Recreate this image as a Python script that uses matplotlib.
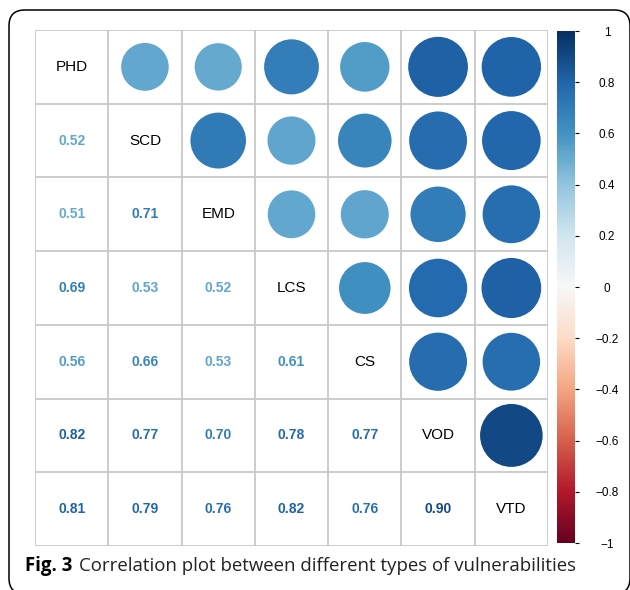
import numpy as np
import matplotlib
matplotlib.use("Agg")
import matplotlib.pyplot as plt
from matplotlib.patches import Circle, FancyBboxPatch
from matplotlib.colors import Normalize
import matplotlib.cm as cm

labels = ["PHD", "SCD", "EMD", "LCS", "CS", "VOD", "VTD"]
corr = [
    [1.00, 0.52, 0.51, 0.69, 0.56, 0.82, 0.81],
    [0.52, 1.00, 0.71, 0.53, 0.66, 0.77, 0.79],
    [0.51, 0.71, 1.00, 0.52, 0.53, 0.70, 0.76],
    [0.69, 0.53, 0.52, 1.00, 0.61, 0.78, 0.82],
    [0.56, 0.66, 0.53, 0.61, 1.00, 0.77, 0.76],
    [0.82, 0.77, 0.70, 0.78, 0.77, 1.00, 0.90],
    [0.81, 0.79, 0.76, 0.82, 0.76, 0.90, 1.00],
]
cbar_ticks = [-1, -0.8, -0.6, -0.4, -0.2, 0, 0.2, 0.4, 0.6, 0.8, 1]
caption_bold = "Fig. 3"
caption_text = "Correlation plot between different types of vulnerabilities"

W, H = 630, 590
fig = plt.figure(figsize=(W / 100, H / 100), dpi=100)

def fx(px):
    return px / W

def fy(py):
    return 1 - py / H

cmap = plt.get_cmap("RdBu")
norm = Normalize(-1, 1)
n = len(labels)

# main axes
x0, x1, y0, y1 = 35, 548, 30, 546
ax = fig.add_axes([fx(x0), fy(y1), fx(x1 - x0), (y1 - y0) / H])
ax.set_xlim(0, n)
ax.set_ylim(n, 0)
ax.axis("off")

grid_col = "#c8c8c8"
for k in range(n + 1):
    ax.plot([k, k], [0, n], color=grid_col, lw=1.3, solid_capstyle="butt", zorder=1)
    ax.plot([0, n], [k, k], color=grid_col, lw=1.3, solid_capstyle="butt", zorder=1)

font = "Liberation Sans"
for i in range(n):
    for j in range(n):
        v = corr[i][j]
        cx, cy = j + 0.5, i + 0.5
        if i == j:
            ax.text(cx, cy, labels[i], ha="center", va="center", fontsize=11,
                    family=font, color="black")
        elif j > i:
            r = 0.45 * np.sqrt(abs(v))
            ax.add_patch(Circle((cx, cy), r, facecolor=cmap(norm(v)), edgecolor="none", zorder=2))
        else:
            ax.text(cx, cy, f"{v:.2f}", ha="center", va="center", fontsize=10,
                    family=font, fontweight="bold", color=cmap(norm(v)))

# colorbar
cax = fig.add_axes([fx(557), fy(543), fx(575 - 557), (543 - 31) / H])
sm = cm.ScalarMappable(norm=norm, cmap=cmap)
cb = fig.colorbar(sm, cax=cax, ticks=cbar_ticks)
cb.outline.set_visible(False)
cb.ax.set_yticklabels([("%g" % t).replace("-", "\u2212") for t in cbar_ticks])
cb.ax.tick_params(length=3, width=0.8, labelsize=8.5, pad=20)
for lab in cb.ax.get_yticklabels():
    lab.set_family(font)
    lab.set_horizontalalignment("center")

# rounded frame
frame = FancyBboxPatch((fx(9), fy(594)), fx(630 - 9), (594 - 10) / H,
                       boxstyle="round,pad=0,rounding_size=0.025",
                       transform=fig.transFigure, facecolor="none",
                       edgecolor="black", lw=1.1, clip_on=False,
                       mutation_aspect=W / H)
fig.patches.append(frame)

# caption
fs = 13.4
t1 = fig.text(fx(25), fy(571), caption_bold, family="Open Sans", fontweight="bold",
              fontsize=fs, va="baseline", ha="left")
fig.canvas.draw()
bb = t1.get_window_extent()
fig.text(bb.x1 / W + fx(7), fy(571), caption_text, family="Open Sans",
         fontsize=fs, va="baseline", ha="left", color="#222222")

fig.savefig("out.png", dpi=100)
